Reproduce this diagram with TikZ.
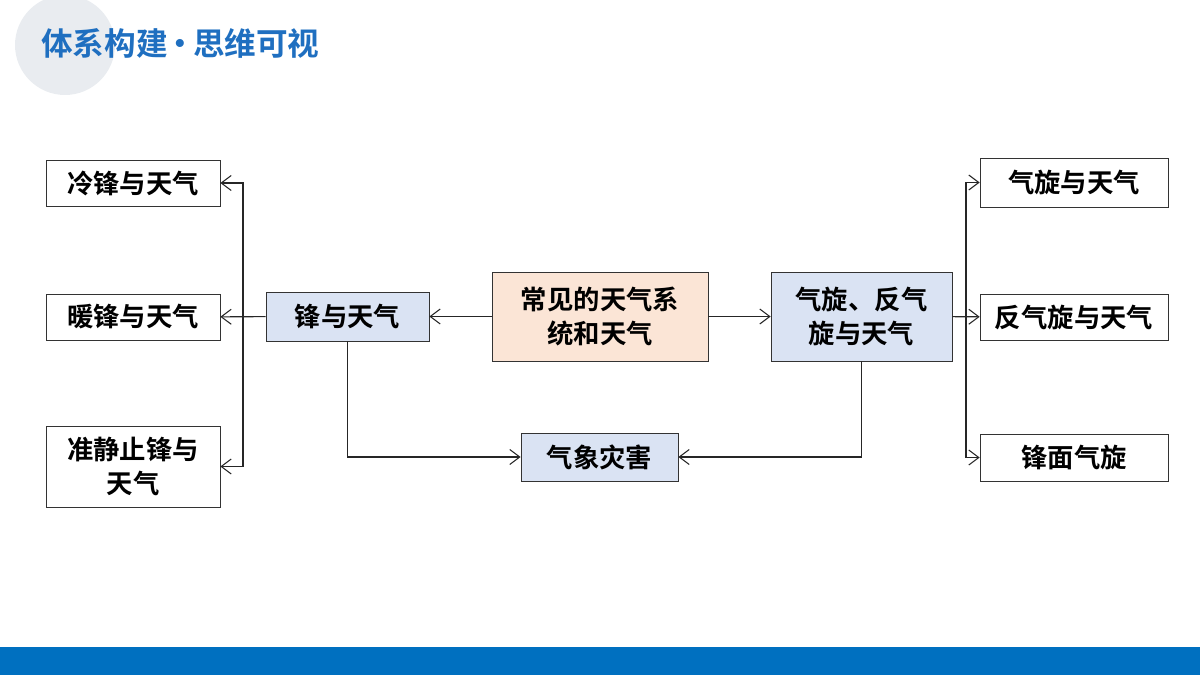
\documentclass[tikz,border=0pt]{standalone}
\usepackage{fontspec}
\setmainfont{Noto Sans CJK SC}[BoldFont={* Bold}]
\usetikzlibrary{arrows.meta,positioning,calc}
\definecolor{TitleBlue}{HTML}{1F6FC0}
\definecolor{BandBlue}{HTML}{0070C0}
\definecolor{BoxBlue}{HTML}{DAE3F3}
\definecolor{BoxOrange}{HTML}{FBE5D6}
\definecolor{Disc}{HTML}{E9ECF0}
\tikzset{
    >={Straight Barb[length=2mm,width=3mm]},
    box/.style={draw=black!80,thin,rectangle,font=\bfseries\fontsize{15}{19}\selectfont,inner sep=0mm,align=center},
    leaf/.style={box,minimum width=3.48cm,minimum height=0.92cm},
    link/.style={black!85,semithick}
}
\begin{document}
\begin{tikzpicture}
    \useasboundingbox (0,0) rectangle (24,13.5);
    % background
    \fill[Disc] (1.3,12.6) circle (1.0);
    \fill[BandBlue] (0,0) rectangle (24,0.56);
    \node[font=\bfseries\fontsize{18}{22}\selectfont,text=TitleBlue,anchor=west] (title) at (0.7,12.64) {体系构建\kern-0.1em\textbullet\kern-0.1em 思维可视};

    % centre
    \node[box,fill=BoxOrange,minimum width=4.32cm,minimum height=1.78cm] (sys) at (12,7.17) {常见的天气系\\统和天气};
    \node[box,fill=BoxBlue,minimum width=3.26cm,minimum height=0.98cm] (front) at (6.95,7.17) {锋与天气};
    \node[box,fill=BoxBlue,minimum width=3.62cm,minimum height=1.78cm] (cyc) at (17.23,7.17) {气旋、反气\\旋与天气};
    \node[box,fill=BoxBlue,minimum width=3.14cm,minimum height=0.96cm] (hazard) at (11.99,4.36) {气象灾害};

    % left
    \node[leaf] (cold) at (2.66,9.84) {冷锋与天气};
    \node[leaf] (warm) at (2.66,7.16) {暖锋与天气};
    \node[leaf,minimum height=1.62cm] (still) at (2.66,4.17) {准静止锋与\\天气};

    % right
    \node[leaf,minimum width=3.76cm,minimum height=0.98cm] (cyc1) at (21.48,9.85) {气旋与天气};
    \node[leaf,minimum width=3.76cm] (cyc2) at (21.48,7.16) {反气旋与天气};
    \node[leaf,minimum width=3.76cm,minimum height=0.94cm] (cyc3) at (21.48,4.35) {锋面气旋};

    \coordinate (lbus) at (4.86,0);
    \coordinate (rbus) at (19.32,0);

    \draw[link,->] (sys) -- (front);
    \draw[link,->] (sys) -- (cyc);
    \draw[link,->] (front) -- (warm);
    \draw[link,->] (lbus |- front.west) |- (cold);
    \draw[link,->] (lbus |- front.west) |- (still);
    \draw[link,->] (cyc) -- (cyc2);
    \draw[link,->] (rbus |- cyc.east) |- (cyc1);
    \draw[link,->] (rbus |- cyc.east) |- (cyc3);
    \draw[link,->] (front.south) |- (hazard);
    \draw[link,->] (cyc.south) |- (hazard);
\end{tikzpicture}
\end{document}
